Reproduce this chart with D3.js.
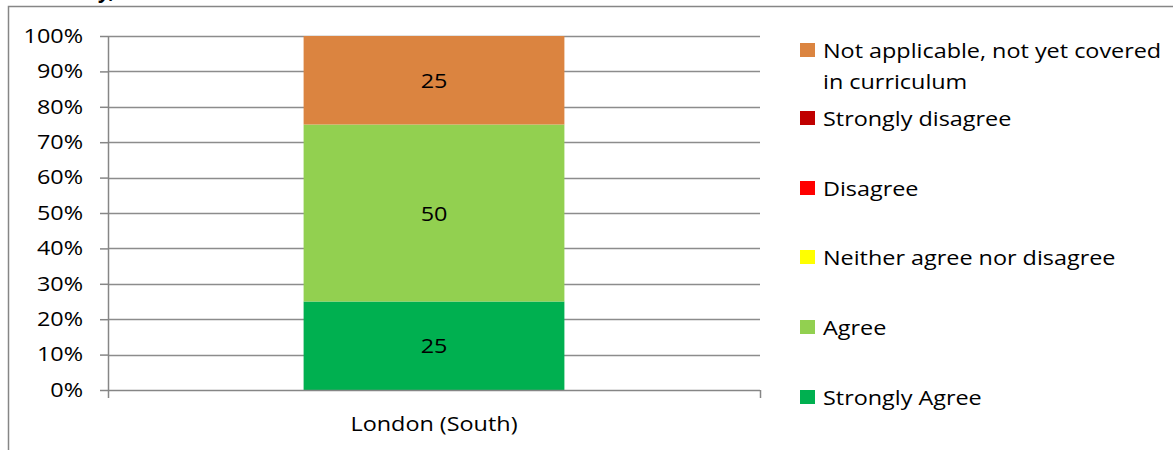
<!DOCTYPE html>
<html>
<head>
<meta charset="utf-8">
<script src="https://cdn.jsdelivr.net/npm/d3@7/dist/d3.min.js"></script>
<style>
  html, body { margin: 0; padding: 0; background: #fff; }
  svg { display: block; font-family: "Open Sans", Lato, sans-serif; }
</style>
</head>
<body>
<svg id="chart" width="1173" height="450"></svg>
<script>
// ---- data ----
const categories = ["London (South)"];
const seriesNames = [
  "Strongly Agree",
  "Agree",
  "Neither agree nor disagree",
  "Disagree",
  "Strongly disagree",
  "Not applicable, not yet covered in curriculum"
];
const seriesColors = ["#00B050", "#92D050", "#FFFF00", "#FF0000", "#C00000", "#DB8440"];
const stronglyAgree = [25];
const agree = [50];
const neither = [0];
const disagree = [0];
const stronglyDisagree = [0];
const notApplicable = [25];
const yTicks = [0, 10, 20, 30, 40, 50, 60, 70, 80, 90, 100];

const seriesValues = [stronglyAgree, agree, neither, disagree, stronglyDisagree, notApplicable];

// ---- layout ----
const svg = d3.select("#chart");
const plot = { left: 108, right: 760, top: 36, bottom: 390 };
const fontSize = 19.5;
const FONT = "'Open Sans', Lato, sans-serif";
const SX = 1.2;

// widen a text horizontally about its anchor point (reference text is horizontally stretched)
function stretch(sel, sx) {
  sel.each(function () {
    const t = d3.select(this);
    const x0 = +t.attr("x") || 0, y0 = +t.attr("y") || 0;
    t.attr("transform", `translate(${x0},${y0}) scale(${sx},1) translate(${-x0},${-y0})`);
  });
}

// outer frame
svg.append("rect")
  .attr("x", 8.5).attr("y", 6.5)
  .attr("width", 1200).attr("height", 500)
  .attr("fill", "none").attr("stroke", "#868686").attr("stroke-width", 1.5);

// cut-off title fragment (only descenders visible in the reference)
svg.append("text")
  .attr("x", 116).attr("y", -2)
  .attr("text-anchor", "end")
  .attr("font-weight", "bold").attr("font-style", "italic")
  .attr("font-size", 20)
  .attr("fill", "#000")
  .text("y,");

const x = d3.scaleBand().domain(categories).range([plot.left, plot.right]);
// Excel gap width 150%: bar = band / 2.5
const barW = x.bandwidth() / 2.5;
const y = d3.scaleLinear().domain([0, 100]).range([plot.bottom, plot.top]);

// gridlines
svg.append("g")
  .selectAll("line")
  .data(yTicks.filter(d => d > 0))
  .join("line")
  .attr("x1", plot.left).attr("x2", plot.right)
  .attr("y1", d => Math.round(y(d)) + 0.5).attr("y2", d => Math.round(y(d)) + 0.5)
  .attr("stroke", "#8c8c8c").attr("stroke-width", 1.5);

// stacked data
const rows = categories.map((c, i) => {
  const o = { cat: c };
  seriesNames.forEach((s, j) => o[s] = seriesValues[j][i]);
  return o;
});
const stack = d3.stack().keys(seriesNames)(rows);

const gBars = svg.append("g");
stack.forEach((layer, j) => {
  layer.forEach(d => {
    const cx = x(d.data.cat) + x.bandwidth() / 2;
    const h = y(d[0]) - y(d[1]);
    if (h <= 0) return;
    gBars.append("rect")
      .attr("x", cx - barW / 2).attr("width", barW)
      .attr("y", y(d[1])).attr("height", h)
      .attr("fill", seriesColors[j]);
    gBars.append("text")
      .attr("x", cx).attr("y", (y(d[0]) + y(d[1])) / 2)
      .attr("text-anchor", "middle").attr("dominant-baseline", "central")
      .attr("font-size", fontSize).attr("fill", "#000")
      .text(d[1] - d[0])
      .call(stretch, SX);
  });
});

// y axis
const yAxis = svg.append("g")
  .attr("transform", `translate(${plot.left},0)`)
  .call(d3.axisLeft(y).tickValues(yTicks).tickFormat(d => d + "%").tickSize(8).tickPadding(17));
yAxis.select(".domain").attr("stroke", "#868686").attr("stroke-width", 1.5).attr("d", `M0.5,${plot.top}V${plot.bottom}`);
yAxis.selectAll(".tick line").attr("stroke", "#868686").attr("stroke-width", 1.5);
yAxis.selectAll(".tick text").attr("font-size", fontSize).attr("fill", "#000").attr("font-family", FONT)
  .call(stretch, SX);

// x axis
const xAxis = svg.append("g")
  .attr("transform", `translate(0,${plot.bottom})`)
  .call(d3.axisBottom(x).tickSize(0).tickPadding(27));
xAxis.select(".domain").attr("stroke", "#868686").attr("stroke-width", 1.5).attr("d", `M${plot.left},0.5H${plot.right}`);
xAxis.selectAll(".tick text").attr("font-size", fontSize).attr("fill", "#000").attr("font-family", FONT)
  .call(stretch, SX);
// category boundary ticks
const boundaries = categories.map(c => x(c)).concat([x(categories[categories.length - 1]) + x.bandwidth()]);
xAxis.append("g").selectAll("line").data(boundaries).join("line")
  .attr("x1", d => d + 0.5).attr("x2", d => d + 0.5)
  .attr("y1", 0).attr("y2", 8)
  .attr("stroke", "#868686").attr("stroke-width", 1.5);

// legend (reverse order, top to bottom)
const legendItems = seriesNames.map((n, i) => ({ name: n, color: seriesColors[i] })).reverse();
const legendLines = {
  "Not applicable, not yet covered in curriculum": ["Not applicable, not yet covered", "in curriculum"]
};
const legendY = [50, 118, 188, 257, 327, 397];
const gLeg = svg.append("g");
legendItems.forEach((it, i) => {
  const cy = legendY[i];
  gLeg.append("rect")
    .attr("x", 800).attr("y", cy - 7).attr("width", 15).attr("height", 14)
    .attr("fill", it.color);
  const lines = legendLines[it.name] || [it.name];
  lines.forEach((ln, k) => {
    gLeg.append("text")
      .attr("x", 823).attr("y", cy + k * 31)
      .attr("dominant-baseline", "central")
      .attr("font-size", fontSize).attr("fill", "#000")
      .text(ln)
      .call(stretch, SX);
  });
});
</script>
</body>
</html>
